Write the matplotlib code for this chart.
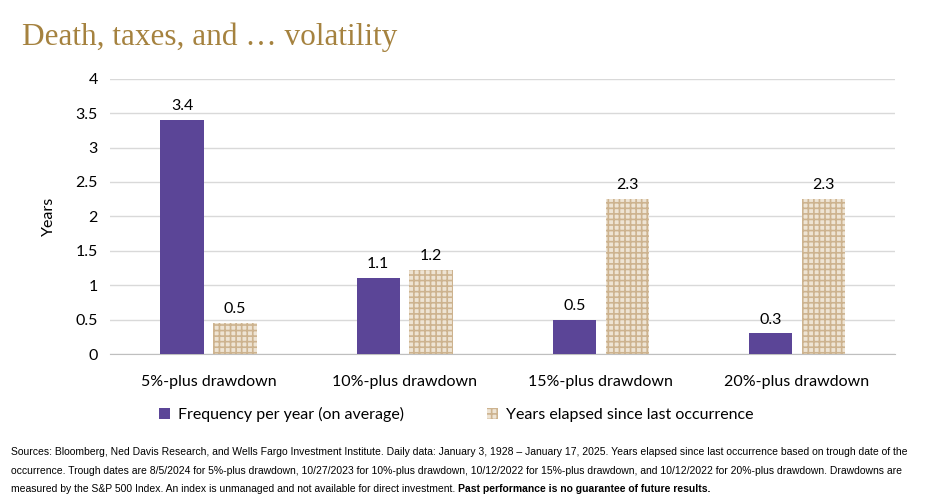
import numpy as np
import matplotlib.pyplot as plt

categories = ["5%-plus drawdown", "10%-plus drawdown", "15%-plus drawdown", "20%-plus drawdown"]
frequency = [3.4, 1.1, 0.5, 0.3]
years_elapsed = [0.5, 1.2, 2.3, 2.3]
# bar heights as drawn in the chart (labels rounded)
years_elapsed_drawn = [0.45, 1.22, 2.25, 2.25]
series_names = ["Frequency per year (on average)", "Years elapsed since last occurrence"]
yticks = [0, 0.5, 1, 1.5, 2, 2.5, 3, 3.5, 4]

PURPLE = "#5B4597"
BEIGE = "#EEE4D4"
TAN = "#CDB38F"
GOLD = "#A5823F"

plt.rcParams["font.family"] = ["Lato", "DejaVu Sans"]
plt.rcParams["hatch.linewidth"] = 1.2

fig = plt.figure(figsize=(9.36, 4.98), dpi=100)
ax = fig.add_axes([0.118, 0.289, 0.838, 0.553])

x = np.arange(len(categories))
w = 0.22
gap = 0.05
ax.bar(x - w / 2 - gap / 2, frequency, w, color=PURPLE, label=series_names[0], zorder=3)
plt.rcParams["hatch.color"] = TAN
ax.bar(x + w / 2 + gap / 2, years_elapsed_drawn, w, color=BEIGE, edgecolor=TAN,
       linewidth=0, hatch="+++", label=series_names[1], zorder=3)

for xi, v in zip(x, frequency):
    ax.text(xi - w / 2 - gap / 2, v + 0.1, f"{v:.1f}", ha="center", va="bottom", fontsize=11.5)
for xi, v, h in zip(x, years_elapsed, years_elapsed_drawn):
    ax.text(xi + w / 2 + gap / 2, h + 0.1, f"{v:.1f}", ha="center", va="bottom", fontsize=11.5)

ax.set_ylim(0, 4)
ax.set_xlim(-0.5, 3.5)
ax.set_yticks(yticks)
ax.set_yticklabels([f"{t:g}" for t in yticks], fontsize=11.5)
ax.set_xticks(x)
ax.set_xticklabels(categories, fontsize=11.5)
ax.tick_params(axis="x", length=0, pad=15)
ax.tick_params(axis="y", length=0, pad=9)
ax.yaxis.grid(True, color="#D9D9D9", linewidth=1, zorder=0)
for s in ["top", "right", "left"]:
    ax.spines[s].set_visible(False)
ax.spines["bottom"].set_color("#BFBFBF")
ax.set_ylabel("Years", fontsize=11.5, labelpad=14)

ax.legend(loc="upper left", bbox_to_anchor=(0.043, -0.14), ncol=2, frameon=False,
          fontsize=11.5, handlelength=0.7, handleheight=0.7, handletextpad=0.5,
          columnspacing=5.2)

fig.text(0.023, 0.895, "Death, taxes, and \u2026 volatility", fontsize=22.5,
         family=["Liberation Serif", "DejaVu Serif"], color=GOLD, va="bottom")

note_font = dict(fontsize=7.5, family=["Liberation Sans Narrow", "Liberation Sans", "DejaVu Sans"])
lines = [
    "Sources: Bloomberg, Ned Davis Research, and Wells Fargo Investment Institute. Daily data: January 3, 1928 \u2013 January 17, 2025. Years elapsed since last occurrence based on trough date of the",
    "occurrence. Trough dates are 8/5/2024 for 5%-plus drawdown, 10/27/2023 for 10%-plus drawdown, 10/12/2022 for 15%-plus drawdown, and 10/12/2022 for 20%-plus drawdown. Drawdowns are",
]
y0 = 0.092
dy = 0.037
for i, ln in enumerate(lines):
    fig.text(0.012, y0 - i * dy, ln, va="center", **note_font)
t = fig.text(0.012, y0 - 2 * dy,
             "measured by the S&P 500 Index. An index is unmanaged and not available for direct investment. ",
             va="center", **note_font)
fig.canvas.draw()
bb = t.get_window_extent().transformed(fig.transFigure.inverted())
fig.text(bb.x1, y0 - 2 * dy, "Past performance is no guarantee of future results.",
         va="center", fontweight="bold", **note_font)

fig.savefig("out.png", dpi=100)
